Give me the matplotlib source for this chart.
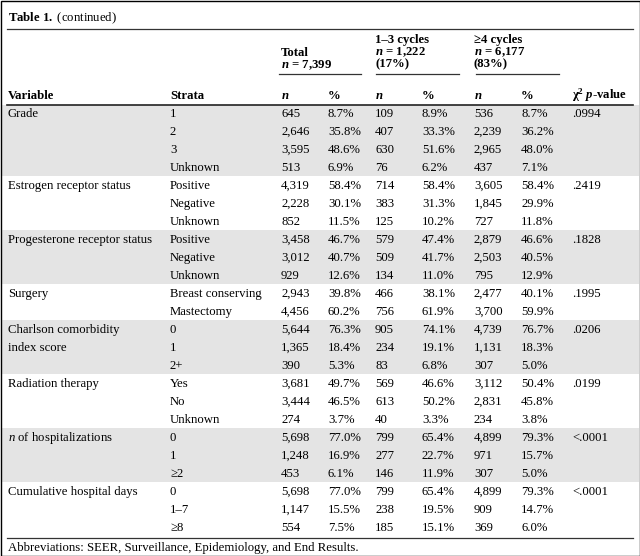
import matplotlib
matplotlib.use("Agg")
import matplotlib.pyplot as plt

plt.rcParams['font.family'] = 'Liberation Serif'
plt.rcParams['mathtext.fontset'] = 'custom'
plt.rcParams['mathtext.rm'] = 'Liberation Serif'
plt.rcParams['mathtext.it'] = 'Liberation Serif:italic'
plt.rcParams['mathtext.bf'] = 'Liberation Serif:bold'
plt.rcParams['mathtext.bfit'] = 'Liberation Serif:italic:bold'

# ---------------- data ----------------
title_bold = "Table 1."
title_rest = "(continued)"
variables = ["Grade", "Estrogen receptor status", "Progesterone receptor status",
             "Surgery", "Charlson comorbidity\nindex score", "Radiation therapy",
             "$\\mathit{n}$ of hospitalizations", "Cumulative hospital days"]
strata = [["1", "2", "3", "Unknown"],
          ["Positive", "Negative", "Unknown"],
          ["Positive", "Negative", "Unknown"],
          ["Breast conserving", "Mastectomy"],
          ["0", "1", "2+"],
          ["Yes", "No", "Unknown"],
          ["0", "1", "≥2"],
          ["0", "1–7", "≥8"]]
total_n = ["645", "2,646", "3,595", "513", "4,319", "2,228", "852", "3,458", "3,012", "929",
           "2,943", "4,456", "5,644", "1,365", "390", "3,681", "3,444", "274",
           "5,698", "1,248", "453", "5,698", "1,147", "554"]
total_pct = ["8.7%", "35.8%", "48.6%", "6.9%", "58.4%", "30.1%", "11.5%", "46.7%", "40.7%", "12.6%",
             "39.8%", "60.2%", "76.3%", "18.4%", "5.3%", "49.7%", "46.5%", "3.7%",
             "77.0%", "16.9%", "6.1%", "77.0%", "15.5%", "7.5%"]
c13_n = ["109", "407", "630", "76", "714", "383", "125", "579", "509", "134",
         "466", "756", "905", "234", "83", "569", "613", "40",
         "799", "277", "146", "799", "238", "185"]
c13_pct = ["8.9%", "33.3%", "51.6%", "6.2%", "58.4%", "31.3%", "10.2%", "47.4%", "41.7%", "11.0%",
           "38.1%", "61.9%", "74.1%", "19.1%", "6.8%", "46.6%", "50.2%", "3.3%",
           "65.4%", "22.7%", "11.9%", "65.4%", "19.5%", "15.1%"]
c4_n = ["536", "2,239", "2,965", "437", "3,605", "1,845", "727", "2,879", "2,503", "795",
        "2,477", "3,700", "4,739", "1,131", "307", "3,112", "2,831", "234",
        "4,899", "971", "307", "4,899", "909", "369"]
c4_pct = ["8.7%", "36.2%", "48.0%", "7.1%", "58.4%", "29.9%", "11.8%", "46.6%", "40.5%", "12.9%",
          "40.1%", "59.9%", "76.7%", "18.3%", "5.0%", "50.4%", "45.8%", "3.8%",
          "79.3%", "15.7%", "5.0%", "79.3%", "14.7%", "6.0%"]
pvalues = [".0994", ".2419", ".1828", ".1995", ".0206", ".0199", "<.0001", "<.0001"]
group_heads = [["Total", "$\\mathbfit{n}$ = 7,399"],
               ["1–3 cycles", "$\\mathbfit{n}$ = 1,222", "(17%)"],
               ["≥4 cycles", "$\\mathbfit{n}$ = 6,177", "(83%)"]]
col_heads = ["Variable", "Strata", "$\\mathbfit{n}$", "%", "$\\mathbfit{n}$", "%",
             "$\\mathbfit{n}$", "%", "$\\mathbf{χ}^{\\mathbf{2}}$ $\\mathbfit{p}$-value"]
footnote = "Abbreviations: SEER, Surveillance, Epidemiology, and End Results."

# ---------------- layout ----------------
W, H = 640, 556
fig = plt.figure(figsize=(W / 100, H / 100), dpi=100)
ax = fig.add_axes([0, 0, 1, 1])
ax.set_xlim(0, W)
ax.set_ylim(H, 0)
ax.axis('off')

FS = 9.2
col_x = [8, 170, 281, 328, 375, 422, 474, 521, 572]
y0 = 113.0
step = 18.0
base_off = 4.2
shade = '#e4e4e4'


def put(x, yb, s, **kw):
    ax.text(x, yb, s, fontsize=FS, va='baseline', ha='left', **kw)


# outer frame
ax.add_patch(plt.Rectangle((0.5, 0.5), W - 1, H - 1, fill=False, ec='black', lw=1.0, zorder=5))

# title
put(8, 21, "$\\mathbf{Table\\ 1.}$ " + title_rest)
ax.plot([7, 633], [28.5, 28.5], color='#333333', lw=0.9)

# group heads
gx = [281, 375, 474]
ul = [(279, 361), (376, 459), (476, 559)]
for gi, lines in enumerate(group_heads):
    nlines = len(lines)
    if nlines == 2:
        bases = [56, 68]
    else:
        bases = [42.5, 55, 67]
    for li, s in enumerate(lines):
        put(gx[gi], bases[li], s, fontweight='bold')
    ax.plot(ul[gi], [73.5, 73.5], color='#333333', lw=0.9)

# column heads
for x, s in zip(col_x, col_heads):
    put(x, 99, s, fontweight='bold')
ax.plot([7, 633], [104.5, 104.5], color='#222222', lw=1.2)

# rows
row = 0
for gi, (var, strs) in enumerate(zip(variables, strata)):
    r0 = row
    r1 = row + len(strs) - 1
    top = y0 + step * r0 - step / 2
    bot = y0 + step * r1 + step / 2
    if gi == 0:
        top = 105.2
    if gi % 2 == 0:
        ax.add_patch(plt.Rectangle((1, top), W - 2, bot - top, color=shade, lw=0, zorder=0))
    for li, part in enumerate(var.split("\n")):
        put(col_x[0], y0 + step * (r0 + li) + base_off, part)
    put(col_x[8], y0 + step * r0 + base_off, pvalues[gi])
    for k, s in enumerate(strs):
        r = row + k
        yb = y0 + step * r + base_off
        vals = [s, total_n[r], total_pct[r], c13_n[r], c13_pct[r], c4_n[r], c4_pct[r]]
        for x, v in zip(col_x[1:8], vals):
            put(x, yb, v)
    row += len(strs)

ax.plot([7, 633], [537.5, 537.5], color='#333333', lw=0.9)
put(8, 551, footnote)

fig.savefig("out.png", dpi=100)
